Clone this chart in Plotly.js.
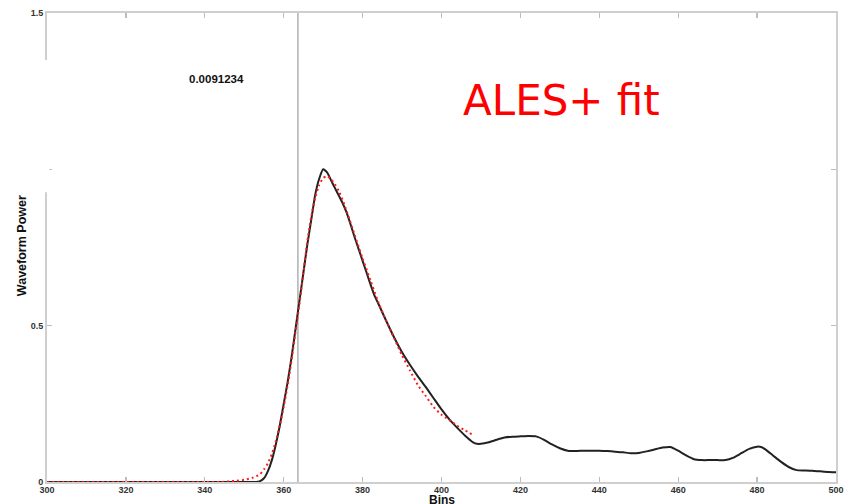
<!DOCTYPE html>
<html>
<head>
<meta charset="utf-8">
<script src="https://cdn.plot.ly/plotly-3.0.1.min.js"></script>
<style>html,body{margin:0;padding:0;background:#fff;}#chart{width:853px;height:504px;}</style>
</head>
<body>
<div id="chart"></div>
<script>
// Waveform (black)
const binsWave = [300,310,320,330,340,350,353,354,355,356,357,358,359,360,361,362,363,364,365,366,367,368,369,370,371,372,373,374,375,376,377,378,379,380,381,382,383,384,386,388,390,392,394,396,398,400,402,404,406,408,409,410,412,414,416,418,420,422,424,426,428,430,432,434,436,438,440,442,444,446,448,450,452,454,456,458,460,462,464,466,468,470,472,474,476,478,480,481,482,484,486,488,490,492,494,496,498,500];
const powerWave = [0,0,0,0,0,0,0,0.003,0.012,0.035,0.07,0.12,0.18,0.25,0.32,0.40,0.49,0.58,0.67,0.76,0.84,0.92,0.97,1.0,0.99,0.965,0.94,0.915,0.89,0.86,0.822,0.782,0.745,0.707,0.67,0.632,0.597,0.57,0.515,0.462,0.415,0.375,0.338,0.304,0.268,0.232,0.2,0.173,0.148,0.127,0.122,0.122,0.127,0.135,0.142,0.145,0.146,0.147,0.146,0.135,0.12,0.108,0.1,0.099,0.1,0.1,0.1,0.099,0.097,0.095,0.092,0.093,0.098,0.104,0.11,0.112,0.1,0.085,0.073,0.07,0.07,0.07,0.07,0.078,0.092,0.106,0.113,0.112,0.105,0.085,0.065,0.048,0.038,0.037,0.036,0.034,0.032,0.031];
// ALES+ fit (red dotted)
const binsFit = [300,310,320,330,340,344,346,348,350,352,354,355,356,357,358,359,360,361,362,363,364,365,366,367,368,369,370,371,372,373,374,375,376,378,380,382,384,386,388,390,392,394,396,398,400,402,404,406,408];
const powerFit = [0,0,0,0,0,0,0.002,0.004,0.007,0.013,0.025,0.04,0.06,0.09,0.13,0.18,0.24,0.31,0.39,0.48,0.57,0.67,0.77,0.85,0.91,0.95,0.972,0.978,0.968,0.952,0.93,0.9,0.865,0.79,0.715,0.645,0.575,0.515,0.46,0.405,0.357,0.31,0.275,0.24,0.215,0.198,0.18,0.165,0.15];
// Retracking gate (vertical line)
const gateBin = [363.6];
const yTicks = [0, 0.5, 1, 1.5];
const yTickText = ['0', '0.5', '1', '1.5'];
const xTicks = [300,320,340,360,380,400,420,440,460,480,500];
const labelValue = '0.0091234';
const labelFit = 'ALES+ fit';
const xTitle = 'Bins';
const yTitle = 'Waveform Power';

const traces = [
  {x: binsWave, y: powerWave, mode: 'lines', line: {color: '#222', width: 2, shape: 'spline', smoothing: 0.5}, hoverinfo: 'skip'},
  {x: binsFit, y: powerFit, mode: 'lines', line: {color: '#ff1a1a', width: 2, dash: '2px,3px', shape: 'spline', smoothing: 0.6}, hoverinfo: 'skip'}
];

const tickFont = {family: 'Liberation Sans, Arial, sans-serif', size: 9, color: '#333', weight: 'bold'};
const titleFont = {family: 'Liberation Sans, Arial, sans-serif', size: 12, color: '#111', weight: 'bold'};
const axCommon = {
  showgrid: false, zeroline: false, showline: true, linecolor: '#cfcfcf', linewidth: 2,
  mirror: 'ticks', ticks: 'inside', ticklen: 5, tickwidth: 1.2, tickcolor: '#bdbdbd',
  tickfont: tickFont
};

const layout = {
  width: 853, height: 504,
  margin: {l: 47, r: 17, t: 13, b: 22},
  paper_bgcolor: '#fff', plot_bgcolor: '#fff',
  showlegend: false,
  xaxis: Object.assign({}, axCommon, {range: [300, 500], tickvals: xTicks, ticklabelstandoff: -2}),
  yaxis: Object.assign({}, axCommon, {range: [0, 1.5], tickvals: yTicks, ticktext: yTickText, ticklabelstandoff: 0}),
  shapes: [
    {type: 'line', xref: 'x', yref: 'paper', x0: gateBin[0], x1: gateBin[0], y0: 0, y1: 1, line: {color: '#b0b0b0', width: 1.5}, layer: 'below'},
    {type: 'rect', xref: 'paper', yref: 'y', x0: -0.04, x1: 0.003, y0: 0.927, y1: 1.35, fillcolor: '#fff', line: {width: 0}, layer: 'above'}
  ],
  annotations: [
    {xref: 'x', yref: 'y', x: 343, y: 1.29, text: labelValue, showarrow: false,
     font: {family: 'Liberation Sans, Arial, sans-serif', size: 11.5, color: '#111', weight: 'bold'}},
    {xref: 'x', yref: 'y', x: 430.5, y: 1.22, text: labelFit, showarrow: false,
     font: {family: 'DejaVu Sans, sans-serif', size: 42, color: '#ff0000'}},
    {xref: 'paper', yref: 'paper', x: 0.5, y: -0.0215, yanchor: 'top', xanchor: 'center', text: xTitle, showarrow: false, font: titleFont, borderpad: 0},
    {xref: 'paper', yref: 'paper', x: -0.0317, y: 0.505, xanchor: 'center', yanchor: 'middle', textangle: -90, text: yTitle, showarrow: false,
     font: Object.assign({}, titleFont, {size: 12.5})}
  ]
};

Plotly.newPlot('chart', traces, layout, {staticPlot: true, displayModeBar: false});
</script>
</body>
</html>
